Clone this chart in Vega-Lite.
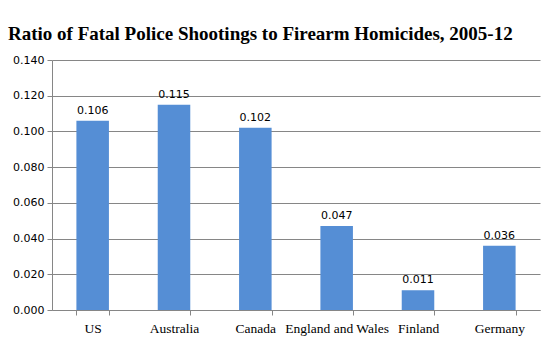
{
  "$schema": "https://vega.github.io/schema/vega-lite/v6.json",
  "width": 488,
  "height": 250,
  "autosize": {"type": "none"},
  "padding": {"left": 52, "top": 60, "right": 19, "bottom": 43},
  "background": "white",
  "title": {
    "text": "Ratio of Fatal Police Shootings to Firearm Homicides, 2005-12",
    "anchor": "start",
    "frame": "group",
    "dx": -44,
    "dy": 30,
    "offset": 25,
    "baseline": "alphabetic",
    "font": "Liberation Serif",
    "fontSize": 19,
    "fontWeight": "bold",
    "color": "#000000"
  },
  "data": {
    "values": [
      {"country": "US", "ratio": 0.106},
      {"country": "Australia", "ratio": 0.115},
      {"country": "Canada", "ratio": 0.102},
      {"country": "England and Wales", "ratio": 0.047},
      {"country": "Finland", "ratio": 0.011},
      {"country": "Germany", "ratio": 0.036}
    ]
  },
  "encoding": {
    "x": {
      "field": "country",
      "type": "nominal",
      "sort": null,
      "scale": {"paddingInner": 0.6, "paddingOuter": 0.3},
      "axis": {
        "title": null,
        "labelAngle": 0,
        "tickBand": "extent",
        "labelFont": "Liberation Serif",
        "labelFontSize": 13.5,
        "labelColor": "#000000",
        "labelPadding": 6,
        "domainColor": "#868686",
        "tickColor": "#868686",
        "tickSize": 5,
        "grid": false
      }
    },
    "y": {
      "field": "ratio",
      "type": "quantitative",
      "scale": {"domain": [0, 0.14], "nice": false},
      "axis": {
        "title": null,
        "values": [0, 0.02, 0.04, 0.06, 0.08, 0.1, 0.12, 0.14],
        "format": ".3f",
        "labelFont": "DejaVu Sans",
        "labelFontSize": 11,
        "labelColor": "#000000",
        "labelPadding": 3,
        "domainColor": "#868686",
        "tickColor": "#868686",
        "tickSize": 5,
        "gridColor": "#868686",
        "gridOpacity": 1
      }
    }
  },
  "layer": [
    {"mark": {"type": "bar", "color": "#558ED5"}},
    {
      "mark": {"type": "text", "dy": -7, "baseline": "alphabetic", "font": "DejaVu Sans", "fontSize": 11, "color": "#000000"},
      "encoding": {"text": {"field": "ratio", "type": "quantitative", "format": ".3f"}}
    }
  ],
  "config": {"view": {"stroke": null}}
}
